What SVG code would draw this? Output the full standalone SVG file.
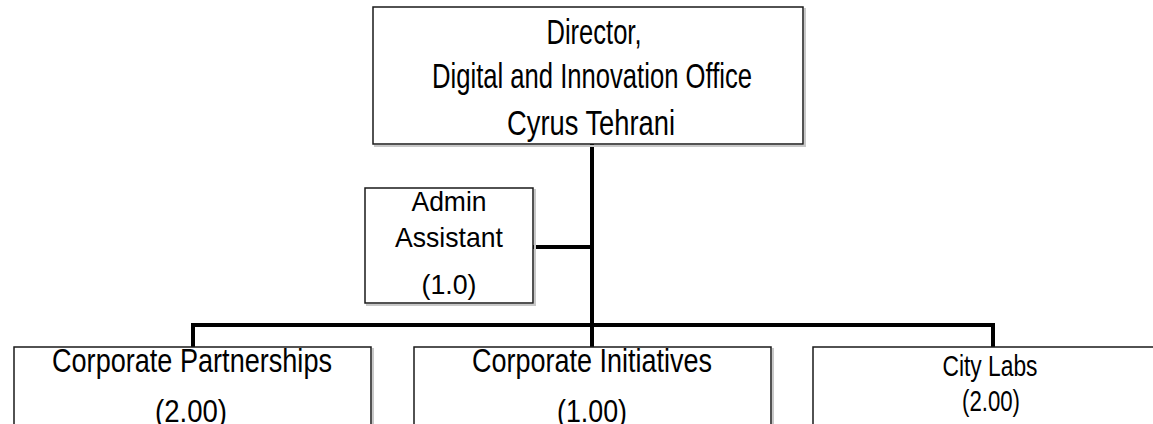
<svg xmlns="http://www.w3.org/2000/svg" width="1153" height="424" viewBox="0 0 1153 424">
<defs>
<style>
.box{fill:#fff;stroke:#1a1a1a;stroke-width:1.5}
.sh{fill:none;stroke:#c8c8c8;stroke-width:2}
.t{font-family:"Liberation Sans",Arial,sans-serif;font-size:35px;fill:#000;text-anchor:middle}
.a{font-size:28px}
.b{font-size:33px}
.n{font-size:31px}
.s{font-size:30px}
.c{fill:none;stroke:#000;stroke-width:4}
</style>
</defs>
<rect width="1153" height="424" fill="#fff"/>
<g id="connectors">
<line class="c" x1="592" y1="144" x2="592" y2="347"/>
<line class="c" x1="533" y1="247" x2="592" y2="247"/>
<polyline class="c" points="193,347 193,325 993,325 993,347"/>
</g>
<g id="director">
<polyline class="sh" points="374,146 805,146 805,8"/>
<rect class="box" x="373" y="7" width="430" height="137"/>
<text class="t" x="594" y="44" textLength="95" lengthAdjust="spacingAndGlyphs">Director,</text>
<text class="t" x="592" y="88" textLength="320" lengthAdjust="spacingAndGlyphs">Digital and Innovation Office</text>
<text class="t" x="591" y="135" textLength="168" lengthAdjust="spacingAndGlyphs">Cyrus Tehrani</text>
</g>
<g id="admin">
<polyline class="sh" points="366,305 535,305 535,189"/>
<rect class="box" x="365" y="188" width="168" height="115"/>
<text class="t a" x="449" y="211" textLength="75" lengthAdjust="spacingAndGlyphs">Admin</text>
<text class="t a" x="449" y="247" textLength="108" lengthAdjust="spacingAndGlyphs">Assistant</text>
<text class="t a" x="449" y="294" textLength="55" lengthAdjust="spacingAndGlyphs">(1.0)</text>
</g>
<g id="partnerships">
<polyline class="sh" points="373,348 373,424"/>
<rect class="box" x="14" y="347" width="357" height="90"/>
<text class="t b" x="192" y="372" textLength="280" lengthAdjust="spacingAndGlyphs">Corporate Partnerships</text>
<text class="t n" x="191" y="422" textLength="72" lengthAdjust="spacingAndGlyphs">(2.00)</text>
</g>
<g id="initiatives">
<polyline class="sh" points="773,348 773,424"/>
<rect class="box" x="414" y="347" width="357" height="90"/>
<text class="t b" x="592" y="372" textLength="240" lengthAdjust="spacingAndGlyphs">Corporate Initiatives</text>
<text class="t n" x="592" y="422" textLength="70" lengthAdjust="spacingAndGlyphs">(1.00)</text>
</g>
<g id="citylabs">
<rect class="box" x="813" y="347" width="357" height="90"/>
<text class="t s" x="990" y="376" textLength="95" lengthAdjust="spacingAndGlyphs">City Labs</text>
<text class="t s" x="991" y="411" textLength="58" lengthAdjust="spacingAndGlyphs">(2.00)</text>
</g>
</svg>
